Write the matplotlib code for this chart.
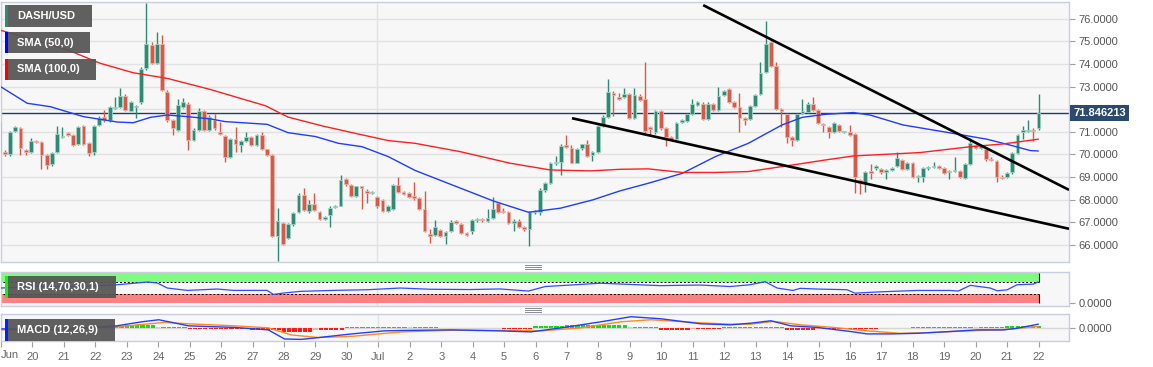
import numpy as np
import matplotlib
matplotlib.use('Agg')
import matplotlib.pyplot as plt
import matplotlib.transforms as mtransforms
from matplotlib.patches import Rectangle
from matplotlib.lines import Line2D

plt.rcParams['font.family'] = ['Liberation Sans', 'DejaVu Sans']

W, H = 1153, 367

# DASH/USD 4h candles, index 0 = Jun 19 00:00 (6 candles a day)
opens = [
    71.45, 70.1, 70.02, 71.05, 71.15, 70.2, 70.1, 70.58, 70.56, 69.97,
    69.58, 70.12, 70.78, 70.93, 70.86, 70.45, 71.25, 70.5, 70.1, 71.3,
    71.67, 71.5, 72.05, 72.1, 72.6, 71.93, 72.1, 72.3, 73.8, 74.85,
    74.05, 74.9, 72.75, 71.5, 71.1, 72.1, 72.25, 70.65, 71.1, 71.9,
    71.1, 71.5, 71.0, 70.8, 69.9, 70.67, 70.42, 70.58, 70.75, 70.4,
    70.87, 70.22, 69.98, 66.4, 66.95, 66.3, 66.9, 67.45, 68.2, 67.5,
    67.8, 67.43, 67.15, 67.33, 67.68, 67.73, 68.9, 68.65, 68.15, 68.58,
    68.4, 68.3, 68.1, 67.98, 67.5, 67.6, 68.65, 68.35, 68.3, 68.15,
    68.05, 67.6, 66.5, 66.45, 66.65, 66.37, 66.63, 67.07, 66.93, 66.52,
    66.6, 67.08, 67.15, 67.05, 67.2, 67.85, 67.5, 67.44, 66.98, 67.07,
    66.8, 66.7, 67.45, 67.45, 68.43, 68.75, 69.6, 69.65, 70.4, 70.3,
    69.64, 70.27, 70.44, 69.96, 70.1, 71.26, 71.67, 72.73, 72.55, 72.55,
    72.65, 71.6, 72.6, 72.43, 71.2, 70.97, 71.9, 71.17, 70.75, 70.68,
    71.45, 71.47, 71.77, 72.2, 72.25, 71.55, 72.23, 71.95, 72.63, 72.88,
    72.3, 72.08, 71.6, 71.55, 72.14, 72.68, 73.65, 74.95, 73.9, 72.0,
    71.8, 70.75, 70.65, 71.82, 71.87, 72.23, 71.97, 71.35, 71.2, 71.0,
    71.3, 71.0, 70.97, 70.9, 68.87, 68.72, 69.27, 69.38, 69.35, 69.2,
    69.3, 69.5, 69.73, 69.36, 69.6, 69.0, 69.02, 69.38, 69.45, 69.47,
    69.4, 69.2, 69.27, 69.27, 68.95, 69.57, 70.4, 70.28, 70.25, 69.8,
    69.7, 69.02, 69.02, 69.2, 70.05, 71.0, 71.03, 71.1, 71.15,
]
highs = [
    71.6, 70.2, 71.05, 71.25, 71.2, 70.25, 70.73, 70.62, 70.6, 70.0,
    70.1, 71.24, 71.2, 70.97, 70.9, 71.25, 71.3, 70.55, 71.3, 71.68,
    71.98, 72.15, 72.55, 72.92, 72.65, 72.38, 72.2, 73.85, 76.7, 74.95,
    75.4, 75.3, 72.85, 71.55, 72.45, 72.5, 72.3, 71.15, 72.04, 71.95,
    71.72, 71.8, 71.45, 70.85, 70.72, 71.23, 70.62, 71.0, 70.8, 70.9,
    71.0, 70.25, 70.0, 67.62, 67.0, 66.98, 67.45, 68.3, 68.53, 67.99,
    68.28, 67.48, 67.27, 67.7, 67.78, 69.09, 68.95, 68.7, 68.62, 68.62,
    68.45, 68.4, 68.15, 68.02, 67.75, 68.7, 69.02, 68.4, 68.35, 68.8,
    68.1, 68.4, 66.72, 67.08, 66.7, 66.6, 67.1, 67.1, 66.97, 66.56,
    67.13, 67.2, 67.2, 67.58, 68.1, 67.9, 67.65, 67.5, 67.12, 67.12,
    66.85, 67.5, 67.55, 68.5, 68.8, 69.65, 69.95, 70.45, 70.87, 70.4,
    70.3, 70.48, 70.65, 70.15, 71.3, 71.72, 73.33, 72.8, 72.72, 72.92,
    72.7, 72.92, 72.65, 74.07, 71.25, 71.95, 71.95, 71.2, 70.8, 71.42,
    71.55, 71.85, 72.44, 72.38, 72.3, 72.3, 72.28, 72.98, 72.85, 72.92,
    72.35, 72.73, 71.65, 72.2, 72.68, 74.07, 75.9, 75.0, 74.1, 72.05,
    71.85, 70.8, 71.85, 72.45, 72.3, 72.55, 72.02, 71.4, 71.25, 71.42,
    71.35, 71.05, 71.3, 70.95, 68.92, 69.25, 69.57, 69.52, 69.4, 69.35,
    69.42, 70.1, 69.78, 69.65, 69.65, 69.1, 69.43, 69.48, 69.68, 69.52,
    69.45, 69.32, 69.9, 69.32, 69.62, 70.73, 70.45, 70.4, 70.3, 69.9,
    69.75, 69.07, 69.22, 70.1, 70.9, 71.25, 71.5, 71.15, 72.66,
]
lows = [
    70.0, 69.95, 69.95, 71.0, 69.97, 69.97, 70.05, 70.5, 69.35, 69.35,
    69.5, 70.08, 70.72, 70.83, 70.35, 70.4, 70.4, 69.95, 69.98, 71.25,
    71.45, 71.45, 72.0, 72.05, 71.9, 71.9, 71.6, 72.25, 73.75, 74.0,
    74.0, 72.8, 71.45, 70.86, 71.05, 72.05, 70.2, 70.6, 71.05, 71.05,
    71.05, 71.1, 70.85, 69.68, 69.85, 70.12, 70.12, 70.55, 70.35, 70.35,
    70.2, 69.92, 66.35, 65.3, 65.98, 66.25, 66.85, 67.4, 67.5, 67.42,
    67.5, 67.08, 67.1, 66.81, 67.63, 67.7, 68.6, 68.12, 68.1, 67.58,
    67.84, 68.25, 67.65, 67.45, 67.45, 67.55, 68.3, 68.2, 68.05, 68.0,
    67.55, 66.55, 66.07, 66.4, 66.35, 66.03, 66.58, 66.9, 66.47, 66.4,
    66.5, 67.02, 67.03, 67.0, 67.15, 67.42, 67.4, 66.9, 66.59, 66.75,
    66.62, 65.95, 67.38, 67.3, 68.35, 68.7, 69.55, 69.09, 70.28, 69.6,
    69.6, 70.2, 69.9, 69.72, 70.05, 71.2, 71.62, 71.7, 72.4, 72.5,
    71.55, 71.55, 72.35, 70.95, 70.86, 70.9, 71.1, 70.35, 70.62, 70.62,
    71.4, 71.42, 71.72, 72.12, 71.5, 71.5, 71.9, 71.9, 72.58, 72.28,
    72.05, 71.0, 71.3, 71.5, 72.1, 72.63, 73.6, 73.85, 71.95, 71.23,
    70.5, 70.35, 70.6, 71.77, 71.82, 71.92, 71.33, 71.0, 70.72, 70.95,
    71.0, 70.95, 70.82, 68.31, 68.24, 68.35, 68.93, 69.33, 69.15, 68.93,
    69.25, 69.45, 69.31, 69.31, 68.95, 68.8, 68.8, 69.33, 69.4, 69.35,
    69.13, 68.9, 69.22, 68.95, 68.9, 69.52, 70.23, 70.23, 69.72, 69.7,
    68.8, 68.9, 68.97, 69.15, 70.0, 70.7, 70.98, 70.6, 71.1,
]
closes = [
    70.12, 70.0, 71.0, 71.22, 70.27, 70.1, 70.6, 70.54, 69.97, 69.53,
    70.08, 70.9, 70.8, 70.86, 70.4, 71.2, 70.44, 70.08, 71.25, 71.6,
    71.5, 72.1, 72.1, 72.6, 71.95, 72.33, 72.15, 73.78, 74.9, 74.05,
    74.9, 72.85, 71.5, 71.15, 72.2, 72.3, 70.65, 71.1, 71.9, 71.1,
    71.67, 71.15, 70.9, 69.9, 70.67, 70.45, 70.58, 70.75, 70.4, 70.87,
    70.25, 69.98, 66.4, 67.07, 66.03, 66.92, 67.4, 68.2, 67.55, 67.8,
    67.55, 67.15, 67.22, 67.65, 67.73, 68.87, 68.67, 68.17, 68.58, 68.53,
    68.3, 68.35, 67.7, 67.5, 67.7, 68.65, 68.35, 68.25, 68.1, 68.05,
    67.6, 66.63, 66.37, 66.8, 66.4, 66.55, 67.03, 66.96, 66.52, 66.45,
    67.1, 67.15, 67.08, 67.2, 67.6, 67.47, 67.45, 66.95, 67.07, 66.8,
    66.7, 67.45, 67.48, 68.43, 68.75, 69.6, 69.65, 70.37, 70.32, 69.64,
    70.25, 70.44, 69.95, 70.1, 71.26, 71.67, 72.77, 72.63, 72.45, 72.65,
    71.6, 72.63, 72.4, 71.05, 71.12, 71.92, 71.17, 70.75, 70.68, 71.38,
    71.5, 71.8, 72.25, 72.3, 71.55, 72.25, 71.95, 72.6, 72.8, 72.33,
    72.1, 71.63, 71.53, 72.14, 72.63, 73.6, 74.9, 73.9, 72.0, 71.9,
    70.75, 70.65, 71.8, 71.92, 72.25, 71.97, 71.38, 71.28, 71.0, 71.37,
    71.05, 71.03, 70.87, 69.0, 68.72, 69.2, 69.17, 69.48, 69.2, 69.3,
    69.38, 69.83, 69.36, 69.6, 69.0, 69.05, 69.38, 69.43, 69.5, 69.4,
    69.18, 69.27, 69.32, 69.0, 69.57, 70.5, 70.28, 70.35, 69.8, 69.77,
    69.02, 68.95, 69.17, 70.05, 70.85, 71.1, 71.08, 71.05, 71.85,
]

# moving averages (candle index, price)
sma50_k = [0.2, 5.3, 9.7, 16.0, 22.5, 25.5, 28.8, 32.0, 35.8, 40.2, 43.0, 51.0, 55.0,
           60.2, 64.6, 69.1, 74.1, 79.2, 84.6, 94.1, 100.8, 106.9, 113.1, 118.3, 123.6,
           130.1, 136.4, 142.7, 149.1, 153.0, 157.3, 162.7, 165.9, 172.2, 181.7, 188.2,
           193.1, 196.4, 197.9]
sma50 = [73.0, 72.26, 72.11, 71.67, 71.43, 71.4, 71.64, 71.74, 71.67, 71.57, 71.45, 71.33,
         70.96, 70.79, 70.49, 70.34, 69.9, 69.29, 68.8, 67.94, 67.44, 67.62, 67.99, 68.39,
         68.72, 69.16, 69.9, 70.49, 71.3, 71.64, 71.77, 71.85, 71.74, 71.3, 70.93, 70.67,
         70.38, 70.17, 70.15]
sma100_k = [0.2, 6.5, 13.0, 19.2, 25.5, 32.0, 40.2, 50.7, 55.0, 61.5, 67.8, 74.1, 79.2,
            87.8, 97.3, 105.0, 112.6, 118.3, 123.6, 130.1, 136.4, 142.7, 149.1, 157.3,
            162.7, 175.4, 185.0, 191.2, 197.9]
sma100 = [75.49, 75.08, 74.62, 74.03, 73.61, 73.36, 72.87, 72.15, 71.65, 71.26, 70.93,
          70.61, 70.49, 70.12, 69.61, 69.31, 69.27, 69.34, 69.36, 69.2, 69.2, 69.24, 69.46,
          69.75, 69.93, 70.08, 70.34, 70.46, 70.67]

rsi_k = [0.2, 6.5, 12.9, 19.2, 22.5, 28.2, 30.1, 32.0, 35.8, 41.5, 44.6, 51.0, 52.2, 54.1,
         57.3, 63.6, 70.1, 76.4, 82.1, 89.7, 95.4, 100.8, 104.0, 108.8, 114.5, 120.2, 125.9,
         133.5, 139.2, 143.0, 145.9, 148.2, 151.2, 152.6, 155.8, 161.5, 163.0, 168.4, 174.9,
         181.1, 182.7, 185.0, 188.8, 190.1, 192.0, 193.9, 197.0, 197.9]
rsi = [50, 55.6, 55, 57.8, 61, 70, 66.7, 50, 42.2, 46.7, 42.2, 42.2, 28.9, 33.3, 38.9, 42.2,
       44.4, 50, 46, 45, 47, 40, 55, 60, 66, 62, 58, 60, 55, 61, 71, 50, 42, 49, 46.7, 44.4,
       33, 37.8, 42, 42, 40, 59, 50, 41, 44, 61, 63, 70]

macd_k = [0.2, 11.6, 22.1, 26.9, 30.1, 32.6, 35.8, 44.6, 51.0, 54.1, 57.3, 60.6, 66.9, 73.1,
          76.4, 85.9, 95.4, 101.1, 106.9, 114.5, 120.2, 125.9, 133.5, 139.2, 143.0, 146.9,
          150.7, 155.8, 162.1, 165.3, 169.7, 174.9, 181.1, 186.3, 191.2, 193.9, 197.9]
macd = [-0.05, -0.1, 0.1, 0.3, 0.4, 0.27, 0.1, 0.02, -0.1, -0.55, -0.57, -0.48, -0.3, -0.15,
        -0.13, -0.1, -0.15, -0.2, 0.0, 0.3, 0.55, 0.45, 0.2, 0.15, 0.23, 0.35, 0.1, 0.02,
        -0.18, -0.3, -0.3, -0.27, -0.18, -0.1, -0.1, -0.02, 0.18]
signal_k = [0.2, 11.6, 22.1, 31.2, 35.8, 44.6, 51.0, 55.4, 60.6, 66.9, 76.4, 85.9, 95.4,
            103.0, 110.7, 118.3, 124.0, 133.5, 139.2, 143.0, 147.4, 152.6, 158.9, 165.3,
            171.6, 177.9, 184.4, 191.2, 197.9]
signal = [-0.1, -0.1, 0.05, 0.27, 0.2, 0.1, 0.0, -0.35, -0.48, -0.42, -0.2, -0.12, -0.13,
          -0.15, 0.0, 0.3, 0.4, 0.25, 0.18, 0.18, 0.32, 0.15, 0.02, -0.15, -0.27, -0.23,
          -0.15, -0.1, 0.07]
# histogram, one reading per day (Jun 19 .. Jul 22)
hist_daily = [-0.03, 0.02, 0.05, 0.1, 0.15, 0.05, -0.08, -0.08, -0.1, -0.22, -0.1, 0.05,
              0.05, 0.02, 0.0, -0.03, -0.05, 0.1, 0.15, 0.15, 0.05, -0.1, -0.08, 0.02, 0.05,
              -0.1, -0.08, -0.08, -0.03, 0.03, 0.04, 0.02, 0.08, 0.1]

last_price = 71.846213
day_labels = ['Jun'] + [str(d) for d in range(20, 31)] + ['Jul'] + [str(d) for d in range(2, 23)]
price_ticks = list(range(66, 77))

# drawn trendlines: (candle index), (price)
upper_k, upper_p = [134.1, 203.8], [76.6, 68.43]
lower_k, lower_p = [109.1, 203.8], [71.6, 66.71]

fig = plt.figure(figsize=(W / 100, H / 100), dpi=100)


def px_axes(x0, y0, x1, y1):
    return fig.add_axes([x0 / W, 1 - y1 / H, (x1 - x0) / W, (y1 - y0) / H])


ax = px_axes(1, 2, 1069, 262)
ax_rsi = px_axes(1, 272, 1069, 305.5)
ax_macd = px_axes(1, 314, 1069, 341)

xlim = (0.3, 203.8)
for a in (ax, ax_rsi, ax_macd):
    a.set_facecolor('#f7f7f7')
    a.set_xlim(*xlim)
    for s in a.spines.values():
        s.set_color('#c8cedc')
        s.set_linewidth(1)
    a.yaxis.tick_right()
    a.tick_params(axis='y', length=4, color='#a0a0a0', labelcolor='#555555',
                  labelsize=8, pad=3)
    a.axvline(72, color='#e2e2e2', lw=1, zorder=0)

# main candles
o = np.array(opens)
c = np.array(closes)
hi = np.array(highs)
lo = np.array(lows)
k = np.arange(len(o))
up = c >= o
cols = np.where(up, '#2e8a72', '#d65a49')
edges = np.where(up, '#a3d4c4', '#f0b2a9')
ax.vlines(k, lo, hi, colors=cols, lw=1, zorder=3)
body = np.maximum(np.abs(c - o), 0.04)
ax.bar(k, body, bottom=np.minimum(o, c), width=0.72, color=cols, edgecolor=edges,
       linewidth=0.6, zorder=4)

ax.axhline(last_price, color='#1f3b6b', lw=1, zorder=2)
ax.plot(sma50_k, sma50, color='#1f3dff', lw=1, zorder=5)
ax.plot(sma100_k, sma100, color='#ff1f1f', lw=1, zorder=5)
ax.plot(upper_k, upper_p, color='black', lw=1.9, zorder=6, solid_capstyle='butt')
ax.plot(lower_k, lower_p, color='black', lw=1.9, zorder=6, solid_capstyle='butt')

ax.set_ylim(65.24, 76.74)
ax.set_yticks(price_ticks)
# the 72.0000 label sits under the last-price tag
ax.set_yticklabels(['' if v == 72 else f'{v:.4f}' for v in price_ticks])
ax.grid(axis='y', color='#e2e2e2', lw=1, zorder=0)
ax.set_axisbelow(True)
ax.set_xticks([])

tr = mtransforms.blended_transform_factory(ax.transAxes, ax.transData)
ax.text(1.004, last_price, '71.846213', transform=tr, ha='left', va='center',
        color='white', fontsize=8, fontweight='bold', zorder=10, clip_on=False,
        bbox=dict(boxstyle='square,pad=0.28', fc='#2b4a70', ec='none'))

# RSI panel
last_k = len(o) - 1
ax_rsi.fill_between([-1, last_k], 70, 100, color='#80fa80', lw=0, zorder=1)
ax_rsi.fill_between([-1, last_k], 0, 30, color='#ff8080', lw=0, zorder=1)
ax_rsi.hlines([70, 30], -1, last_k, colors='black', lw=0.7, linestyles=(0, (2, 2)), zorder=2)
ax_rsi.vlines(last_k, 70, 100, colors='black', lw=0.8, zorder=2)
ax_rsi.vlines(last_k, 0, 30, colors='black', lw=0.8, zorder=2)
ax_rsi.plot(rsi_k, rsi, color='#2f4dff', lw=0.9, zorder=3)
ax_rsi.set_ylim(-8, 103.3)
ax_rsi.set_yticks([0])
ax_rsi.set_yticklabels(['0.0000'])
ax_rsi.set_xticks([])

# MACD panel
hist = np.repeat(hist_daily, 6)[:len(o)]
prev = np.concatenate([[hist[0]], hist[:-1]])
hcols = np.where(hist >= 0,
                 np.where(hist >= prev, '#10e010', '#a6f0a6'),
                 np.where(hist <= prev, '#ff1a1a', '#ffa6a6'))
ax_macd.axhline(0, color='#d6d6d6', lw=1, zorder=1)
ax_macd.bar(k, hist, width=0.8, color=hcols, lw=0, zorder=2)
ax_macd.plot(signal_k, signal, color='#ff8a1e', lw=1, zorder=3)
ax_macd.plot(macd_k, macd, color='#2040ff', lw=1, zorder=4)
ax_macd.set_ylim(-0.65, 0.685)
ax_macd.set_yticks([0])
ax_macd.set_yticklabels(['0.0000'])
ax_macd.set_xticks([6 * d for d in range(len(day_labels))])
ax_macd.set_xticklabels([''] + day_labels[1:])
ax_macd.tick_params(axis='x', length=4, color='#a0a0a0', labelcolor='#666666',
                    labelsize=8, pad=4)
# month label at the clipped left edge
fig.text(0.5 / W, 1 - 355 / H, day_labels[0], color='#666666', fontsize=8,
         ha='left', va='center')


# legend boxes (pixel coords, top-left origin)
def label_box(x0, y0, x1, y1, text, bar):
    fig.add_artist(Rectangle((x0 / W, 1 - y1 / H), (x1 - x0) / W, (y1 - y0) / H,
                             transform=fig.transFigure, fc='#555555', ec='none',
                             alpha=0.93, zorder=20))
    fig.add_artist(Rectangle((x0 / W, 1 - y1 / H), 2.5 / W, (y1 - y0) / H,
                             transform=fig.transFigure, fc=bar, ec='none', zorder=21))
    fig.text(17 / W, 1 - (y0 + y1) / 2 / H, text, color='white', fontsize=8,
             fontweight='bold', ha='left', va='center', zorder=22)


label_box(5, 5, 92, 27, 'DASH/USD', '#2e8a72')
label_box(5, 32, 90, 53, 'SMA (50,0)', '#0000ff')
label_box(5, 59, 96, 80, 'SMA (100,0)', '#ff0000')
label_box(5, 276, 116, 298, 'RSI (14,70,30,1)', '#00ff00')
label_box(5, 319, 115, 341, 'MACD (12,26,9)', '#0022ff')

# panel grips
for yc in (266.5, 309.5):
    for dy in (-2, 0, 2):
        fig.add_artist(Line2D([525 / W, 541 / W], [1 - (yc + dy) / H] * 2,
                              transform=fig.transFigure, color='#8c8c8c', lw=0.7))

fig.savefig('out.png', dpi=100)
